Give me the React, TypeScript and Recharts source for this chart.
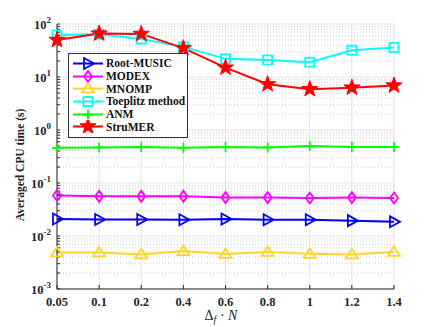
import React from 'react';
import { LineChart, Line, XAxis, YAxis, CartesianGrid, ReferenceLine } from 'recharts';

const categories = ['0.05', '0.1', '0.2', '0.4', '0.6', '0.8', '1', '1.2', '1.4'];
const rootMusic = [0.021, 0.0205, 0.0205, 0.0203, 0.021, 0.0203, 0.0203, 0.0195, 0.0185];
const modex = [0.058, 0.056, 0.056, 0.056, 0.053, 0.053, 0.052, 0.053, 0.052];
const mnomp = [0.0049, 0.0049, 0.0045, 0.0052, 0.0046, 0.005, 0.0046, 0.0045, 0.005];
const toeplitz = [62, 64, 52, 37, 22, 21, 19, 32, 36];
const anm = [0.46, 0.47, 0.48, 0.46, 0.48, 0.47, 0.5, 0.48, 0.48];
const strumer = [50, 66, 65, 35, 15, 7.3, 5.9, 6.3, 6.9];
const yMajorTicks = [0.001, 0.01, 0.1, 1, 10, 100];
const yMinorMultipliers = [2, 3, 4, 5, 6, 7, 8, 9];

const data = categories.map((c, i) => ({
  x: c,
  rootMusic: rootMusic[i],
  modex: modex[i],
  mnomp: mnomp[i],
  toeplitz: toeplitz[i],
  anm: anm[i],
  strumer: strumer[i],
}));

const yMinorTicks: number[] = [];
yMajorTicks.slice(0, -1).forEach((t) => yMinorMultipliers.forEach((m) => yMinorTicks.push(+(t * m).toPrecision(3))));
const yAllTicks = [...yMajorTicks, ...yMinorTicks].sort((a, b) => a - b);

const FONT = "'Liberation Serif', 'Times New Roman', serif";
const C = {
  rootMusic: '#0000FF',
  modex: '#FF00FF',
  mnomp: '#FFD42A',
  toeplitz: '#00FFFF',
  anm: '#00FF00',
  strumer: '#FF0000',
};

const TriRight = ({ cx, cy, color }: any) => (
  <polygon points={`${cx - 4},${cy - 5.5} ${cx + 6},${cy} ${cx - 4},${cy + 5.5}`} fill="none" stroke={color} strokeWidth={1.8} />
);
const Diamond = ({ cx, cy, color }: any) => (
  <polygon points={`${cx},${cy - 5.5} ${cx + 4},${cy} ${cx},${cy + 5.5} ${cx - 4},${cy}`} fill="none" stroke={color} strokeWidth={1.8} />
);
const TriUp = ({ cx, cy, color }: any) => (
  <polygon points={`${cx},${cy - 5.5} ${cx + 6},${cy + 4} ${cx - 6},${cy + 4}`} fill="none" stroke={color} strokeWidth={1.8} />
);
const Square = ({ cx, cy, color }: any) => (
  <rect x={cx - 4.5} y={cy - 4.5} width={9} height={9} fill="none" stroke={color} strokeWidth={1.8} />
);
const Plus = ({ cx, cy, color }: any) => (
  <path d={`M${cx - 5},${cy} H${cx + 5} M${cx},${cy - 5} V${cy + 5}`} stroke={color} strokeWidth={1.8} fill="none" />
);
const Star = ({ cx, cy, color }: any) => {
  const pts: string[] = [];
  for (let k = 0; k < 10; k++) {
    const r = k % 2 === 0 ? 8.5 : 3.4;
    const a = -Math.PI / 2 + (k * Math.PI) / 5;
    pts.push(`${cx + r * Math.cos(a)},${cy + r * Math.sin(a)}`);
  }
  return <polygon points={pts.join(' ')} fill={color} stroke={color} strokeWidth={1} />;
};

const series = [
  { key: 'rootMusic', name: 'Root-MUSIC', M: TriRight },
  { key: 'modex', name: 'MODEX', M: Diamond },
  { key: 'mnomp', name: 'MNOMP', M: TriUp },
  { key: 'toeplitz', name: 'Toeplitz method', M: Square },
  { key: 'anm', name: 'ANM', M: Plus },
  { key: 'strumer', name: 'StruMER', M: Star },
];

const isMajor = (v: number) => yMajorTicks.some((t) => Math.abs(t - v) < t * 1e-6);

const YTick = ({ x, y, payload }: any) => {
  const v = payload.value;
  if (!isMajor(v)) return <g />;
  const e = Math.round(Math.log10(v));
  return (
    <text x={x - 6} y={y + 5} textAnchor="end" fontFamily={FONT} fontWeight="bold" fontSize={12.5} fill="#262626">
      <tspan>10</tspan>
      <tspan dy={-6} fontSize={9}>{e}</tspan>
    </text>
  );
};

const XTick = ({ x, y, payload }: any) => (
  <text x={x} y={y + 17} textAnchor="middle" fontFamily={FONT} fontWeight="bold" fontSize={12.5} fill="#262626">
    {payload.value}
  </text>
);

const XLabel = () => (
  <text x={221} y={320} textAnchor="middle" fontFamily={FONT} fontSize={14} fill="#262626">
    <tspan>Δ</tspan>
    <tspan fontStyle="italic" fontSize={10} dy={3}>f</tspan>
    <tspan dy={-3}> · </tspan>
    <tspan fontStyle="italic">N</tspan>
  </text>
);

const YLabel = () => (
  <text
    x={21}
    y={165}
    transform="rotate(-90 21 165)"
    textAnchor="middle"
    dominantBaseline="middle"
    fontFamily={FONT}
    fontWeight="bold"
    fontSize={11.5}
    fill="#262626"
  >
    Averaged CPU time (s)
  </text>
);

const LegendBox = () => (
  <div
    style={{
      position: 'absolute',
      left: 68,
      top: 53,
      border: '1px solid #333',
      background: '#fff',
      width: 120,
      height: 85,
      boxSizing: 'border-box',
      padding: '3px 0 0 3px',
      fontFamily: FONT,
      fontWeight: 'bold',
      fontSize: 11.5,
      color: '#111',
    }}
  >
    {series.map((s) => {
      const M = s.M;
      return (
        <div key={s.key} style={{ display: 'flex', alignItems: 'center', height: 12.7, whiteSpace: 'nowrap' }}>
          <svg width={34} height={13} style={{ flex: 'none' }}>
            <line x1={1} y1={6.5} x2={31} y2={6.5} stroke={(C as any)[s.key]} strokeWidth={2} />
            <M cx={16} cy={6.5} color={(C as any)[s.key]} />
          </svg>
          <span style={{ lineHeight: '12px' }}>{s.name}</span>
        </div>
      );
    })}
  </div>
);

export default function App() {
  return (
    <div style={{ position: 'absolute', left: 0, top: 0, width: 436, height: 327, background: '#fff' }}>
      <LineChart width={436} height={327} data={data} margin={{ top: 24, right: 42, bottom: 0, left: 0 }}>
        <CartesianGrid stroke="#e3e3e3" strokeWidth={1} xAxisId="bottom" yAxisId="left" horizontalValues={yMajorTicks} />
        {yMinorTicks.map((v) => (
          <ReferenceLine key={v} xAxisId="bottom" yAxisId="left" y={v} stroke="#cfcfcf" strokeDasharray="1 2" strokeWidth={1} />
        ))}
        <XAxis
          dataKey="x"
          xAxisId="bottom"
          height={38}
          interval={0}
          tick={<XTick />}
          tickSize={-4}
          tickMargin={4}
          stroke="#262626"
          label={<XLabel />}
        />
        <XAxis dataKey="x" xAxisId="top" orientation="top" height={0} interval={0} tick={false} tickSize={-4} stroke="#262626" />
        <YAxis
          yAxisId="left"
          scale="log"
          domain={[0.001, 100]}
          ticks={yAllTicks}
          interval={0}
          allowDataOverflow
          width={57}
          tick={<YTick />}
          tickSize={-3}
          tickMargin={3}
          stroke="#262626"
          label={<YLabel />}
        />
        <YAxis
          yAxisId="right"
          orientation="right"
          scale="log"
          domain={[0.001, 100]}
          ticks={yAllTicks}
          interval={0}
          allowDataOverflow
          width={0}
          tick={false}
          tickSize={-3}
          stroke="#262626"
        />
        {series.map((s) => {
          const M = s.M;
          const color = (C as any)[s.key];
          return (
            <Line
              key={s.key}
              xAxisId="bottom"
              yAxisId="left"
              dataKey={s.key}
              name={s.name}
              stroke={color}
              strokeWidth={2}
              isAnimationActive={false}
              dot={(p: any) => <M key={`${s.key}-${p.index}`} cx={p.cx} cy={p.cy} color={color} />}
              activeDot={false}
            />
          );
        })}
      </LineChart>
      <LegendBox />
    </div>
  );
}
